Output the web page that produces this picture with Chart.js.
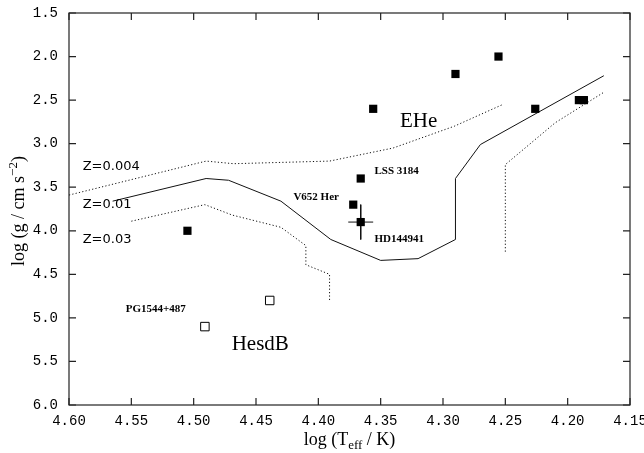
<!DOCTYPE html>
<html>
<head>
<meta charset="utf-8">
<script src="https://cdn.jsdelivr.net/npm/chart.js@4.4.1/dist/chart.umd.min.js"></script>
<style>
  html, body { margin: 0; padding: 0; background: #fff; }
  #wrap { width: 644px; height: 453px; }
</style>
</head>
<body>
<div id="wrap"><canvas id="hrd"></canvas></div>
<script>
// EHe stars (filled squares)
const eheX = [4.505, 4.356, 4.290, 4.2555, 4.226, 4.191, 4.187, 4.366, 4.372, 4.366];
const eheY = [4.00, 2.60, 2.20, 2.00, 2.60, 2.50, 2.50, 3.40, 3.70, 3.90];

// He-sdB stars (open squares)
const sdbX = [4.491, 4.439];
const sdbY = [5.10, 4.80];

// HD144941 error bars
const hdX = 4.366, hdY = 3.90, hdErrX = 0.010, hdErrY = 0.20;

// tracks
const z01X = [4.565, 4.490, 4.472, 4.430, 4.390, 4.350, 4.320, 4.290, 4.290, 4.270, 4.171];
const z01Y = [3.66, 3.40, 3.42, 3.66, 4.10, 4.34, 4.32, 4.10, 3.40, 3.01, 2.22];
const z004X = [4.600, 4.490, 4.468, 4.391, 4.340, 4.291, 4.252];
const z004Y = [3.59, 3.20, 3.23, 3.20, 3.05, 2.80, 2.55];
const z03X = [4.550, 4.491, 4.469, 4.430, 4.410, 4.410, 4.391, 4.391];
const z03Y = [3.89, 3.70, 3.82, 3.96, 4.17, 4.39, 4.50, 4.81];
const z03bX = [4.250, 4.250, 4.210, 4.171];
const z03bY = [4.24, 3.24, 2.76, 2.41];

// annotations
const noteText = ['Z=0.004', 'Z=0.01', 'Z=0.03', 'EHe', 'HesdB', 'LSS 3184', 'V652 Her', 'HD144941', 'PG1544+487'];
const noteX = [4.589, 4.589, 4.589, 4.3345, 4.4695, 4.355, 4.420, 4.355, 4.5545];
const noteY = [3.26, 3.70, 4.10, 2.75, 5.30, 3.31, 3.61, 4.10, 4.90];
const noteFont = ['13px "DejaVu Sans"', '13px "DejaVu Sans"', '13px "DejaVu Sans"',
  '21px "Liberation Serif"', '21px "Liberation Serif"',
  'bold 11px "Liberation Serif"', 'bold 11px "Liberation Serif"', 'bold 11px "Liberation Serif"', 'bold 11px "Liberation Serif"'];

const pts = (xs, ys) => xs.map((v, i) => ({ x: v, y: ys[i] }));

function track(xs, ys, dash) {
  return {
    type: 'line', data: pts(xs, ys), borderColor: '#111', borderWidth: 1,
    borderDash: dash, pointRadius: 0, fill: false, tension: 0
  };
}

const overlay = {
  id: 'overlay',
  afterDraw(chart) {
    const { ctx, chartArea: a, scales: { x, y } } = chart;
    ctx.save();
    ctx.strokeStyle = '#222';
    ctx.lineWidth = 1.2;
    ctx.strokeRect(a.left, a.top, a.right - a.left, a.bottom - a.top);
    ctx.beginPath();
    x.ticks.forEach(t => {
      const p = x.getPixelForValue(t.value);
      ctx.moveTo(p, a.bottom); ctx.lineTo(p, a.bottom - 7);
      ctx.moveTo(p, a.top); ctx.lineTo(p, a.top + 7);
    });
    y.ticks.forEach(t => {
      const p = y.getPixelForValue(t.value);
      ctx.moveTo(a.left, p); ctx.lineTo(a.left + 7, p);
      ctx.moveTo(a.right, p); ctx.lineTo(a.right - 7, p);
    });
    ctx.stroke();

    ctx.fillStyle = '#000';
    ctx.textBaseline = 'middle';
    ctx.textAlign = 'left';
    noteText.forEach((s, i) => {
      ctx.font = noteFont[i];
      ctx.fillText(s, x.getPixelForValue(noteX[i]), y.getPixelForValue(noteY[i]));
    });

    // x title: log (T_eff / K)
    const big = '18px "Liberation Serif"', small = '13px "Liberation Serif"';
    const p1 = 'log (T', p2 = 'eff', p3 = ' / K)';
    ctx.font = big; const w1 = ctx.measureText(p1).width, w3 = ctx.measureText(p3).width;
    ctx.font = small; const w2 = ctx.measureText(p2).width;
    let cx = (a.left + a.right) / 2 - (w1 + w2 + w3) / 2;
    const by = 445;
    ctx.textBaseline = 'alphabetic';
    ctx.font = big; ctx.fillText(p1, cx, by); cx += w1;
    ctx.font = small; ctx.fillText(p2, cx, by + 4); cx += w2;
    ctx.font = big; ctx.fillText(p3, cx, by);

    // y title: log (g / cm s^-2)
    ctx.translate(24, (a.top + a.bottom) / 2 + 2);
    ctx.rotate(-Math.PI / 2);
    const q1 = 'log (g / cm s', q2 = '\u22122', q3 = ')';
    ctx.font = big; const v1 = ctx.measureText(q1).width, v3 = ctx.measureText(q3).width;
    ctx.font = small; const v2 = ctx.measureText(q2).width;
    let cy = -(v1 + v2 + v3) / 2;
    ctx.font = big; ctx.fillText(q1, cy, 0); cy += v1;
    ctx.font = small; ctx.fillText(q2, cy, -7); cy += v2;
    ctx.font = big; ctx.fillText(q3, cy, 0);
    ctx.restore();
  }
};

new Chart(document.getElementById('hrd'), {
  type: 'scatter',
  data: {
    datasets: [
      {
        data: pts(eheX, eheY), pointStyle: 'rect', pointRadius: 5.8,
        backgroundColor: '#000', borderColor: '#000', borderWidth: 0
      },
      {
        data: pts(sdbX, sdbY), pointStyle: 'rect', pointRadius: 6,
        backgroundColor: '#fff', borderColor: '#000', borderWidth: 1
      },
      track([hdX - hdErrX, hdX + hdErrX], [hdY, hdY], []),
      track([hdX, hdX], [hdY - hdErrY, hdY + hdErrY], []),
      track(z01X, z01Y, []),
      track(z004X, z004Y, [1.2, 2.2]),
      track(z03X, z03Y, [1.2, 2.2]),
      track(z03bX, z03bY, [1.2, 2.2])
    ]
  },
  options: {
    responsive: true,
    maintainAspectRatio: false,
    animation: false,
    events: [],
    layout: { padding: { top: 13, right: 14, left: 0, bottom: 0 } },
    plugins: { legend: { display: false }, tooltip: { enabled: false } },
    scales: {
      x: {
        type: 'linear', min: 4.15, max: 4.60, reverse: true,
        grid: { display: false, drawTicks: false }, border: { display: false },
        ticks: {
          stepSize: 0.05, padding: 8, color: '#000',
          font: { family: '"Liberation Mono"', size: 14 },
          callback: v => v.toFixed(2)
        },
        afterFit(s) { s.height = 48; s.paddingLeft = 0; s.paddingRight = 0; }
      },
      y: {
        type: 'linear', min: 1.5, max: 6.0, reverse: true,
        grid: { display: false, drawTicks: false }, border: { display: false },
        ticks: {
          stepSize: 0.5, padding: 11, color: '#000',
          font: { family: '"Liberation Mono"', size: 14 },
          callback: v => v.toFixed(1)
        },
        afterFit(s) { s.width = 69; s.paddingTop = 0; s.paddingBottom = 0; }
      }
    }
  },
  plugins: [overlay]
});
</script>
</body>
</html>
